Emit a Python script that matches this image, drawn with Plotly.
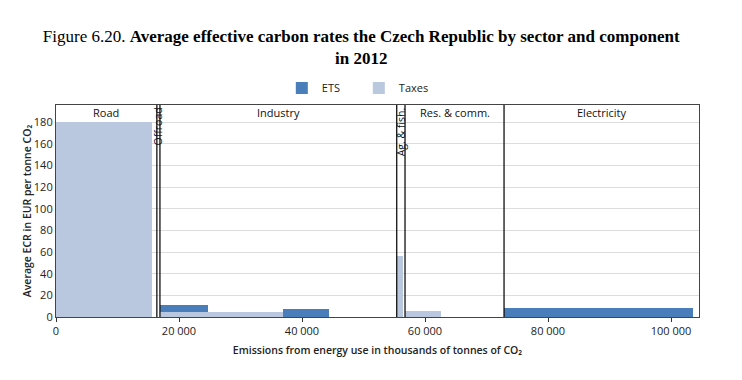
import plotly.graph_objects as go

# ---- data ----
sector_names = ["Road", "Offroad", "Industry", "Ag. & fish.", "Res. & comm.", "Electricity"]
sector_start = [0, 16400, 16900, 55400, 56750, 72850]
sector_end = [16400, 16900, 55400, 56750, 72850, 104550]
sector_rotated = [False, True, False, True, False, False]

seg_start = [0, 16900, 24700, 36900, 55400, 56750, 72850]
seg_end = [15600, 24700, 36900, 44400, 56400, 62550, 103500]
taxes = [180, 4.5, 4.5, 0, 56.5, 5.3, 0]
ets = [0, 6.5, 0, 7.1, 0, 0, 8.3]

x_ticks = [0, 20000, 40000, 60000, 80000, 100000]
x_ticktext = ["0", "20 000", "40 000", "60 000", "80 000", "100 000"]
y_ticks = [0, 20, 40, 60, 80, 100, 120, 140, 160, 180]

ETS_COLOR = "#4a7ebb"
TAX_COLOR = "#b9c8df"
FONT = "Open Sans"

mid = [(a + b) / 2 for a, b in zip(seg_start, seg_end)]
wid = [b - a for a, b in zip(seg_start, seg_end)]

fig = go.Figure()
fig.add_trace(go.Bar(x=mid, y=ets, width=wid, base=taxes, name="ETS",
                     marker=dict(color=ETS_COLOR, line=dict(width=0))))
fig.add_trace(go.Bar(x=mid, y=taxes, width=wid, base=[0] * len(taxes), name="Taxes",
                     marker=dict(color=TAX_COLOR, line=dict(width=0))))

# sector separators
for e in sector_end[:-1]:
    fig.add_shape(type="line", x0=e, x1=e, y0=0, y1=1, xref="x", yref="paper",
                  line=dict(color="#111", width=1.3), layer="above")

# sector labels
for n, s, e, rot in zip(sector_names, sector_start, sector_end, sector_rotated):
    if rot:
        fig.add_annotation(x=(s + e) / 2, y=196, xref="x", yref="y", text=n,
                           textangle=-90, showarrow=False, xanchor="center", yanchor="top",
                           font=dict(family=FONT, size=10.5, color="#111"))
    else:
        fig.add_annotation(x=(s + e) / 2, y=189, xref="x", yref="y", text=n,
                           showarrow=False, xanchor="center", yanchor="middle",
                           font=dict(family=FONT, size=11, color="#111"))

fig.update_layout(
    width=742, height=380,
    margin=dict(l=48, r=51, t=97, b=71),
    paper_bgcolor="white", plot_bgcolor="white",
    barmode="overlay", bargap=0,
    title=dict(text="Figure 6.20. <b>Average effective carbon rates the Czech Republic by sector and component</b><br><b>in 2012</b>",
               x=0.476, xref="container", xanchor="center",
               y=1 - 34 / 380, yref="container", yanchor="top",
               font=dict(family="Liberation Serif", size=17, color="#000")),
    legend=dict(orientation="h", x=0.3512, xanchor="left", y=1.08, yanchor="middle",
                font=dict(family=FONT, size=11, color="#222"), traceorder="normal",
                itemwidth=30, entrywidth=32, entrywidthmode="pixels"),
    xaxis=dict(range=[0, 104550], tickvals=x_ticks, ticktext=x_ticktext, automargin=False,
               ticks="outside", ticklen=4, tickcolor="#333", showgrid=False,
               showline=True, linecolor="#444", linewidth=1.2, mirror=True, zeroline=False,
               tickfont=dict(family=FONT, size=11, color="#222"),
               title=dict(text="Emissions from energy use in thousands of tonnes of CO₂",
                          font=dict(family=FONT, size=10.5, color="#222", weight=600), standoff=9)),
    yaxis=dict(range=[0, 196], tickvals=y_ticks, showgrid=True, gridcolor="#dcdcdc", gridwidth=1,
               showline=True, linecolor="#444", linewidth=1.2, mirror=True, zeroline=False,
               ticks="", automargin=False, tickfont=dict(family=FONT, size=11, color="#222"),
               title=dict(text="Average ECR in EUR per tonne CO₂",
                          font=dict(family=FONT, size=10.5, color="#222", weight=600), standoff=0)),
)

fig.write_html("out.html")
